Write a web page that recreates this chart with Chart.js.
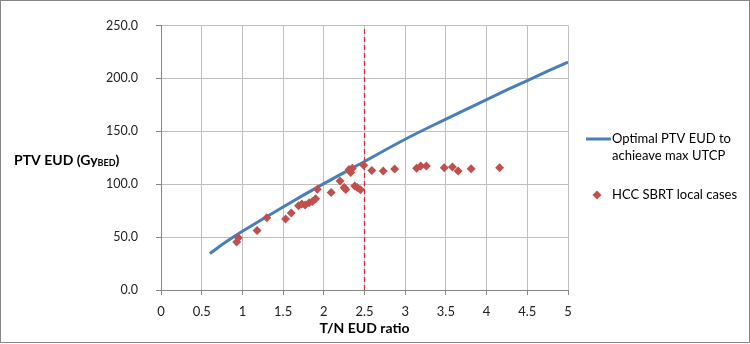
<!DOCTYPE html>
<html><head><meta charset="utf-8">
<script src="https://cdn.jsdelivr.net/npm/chart.js@4/dist/chart.umd.min.js"></script>
<style>html,body{margin:0;padding:0;background:#fff}#wrap{width:750px;height:344px;position:relative}</style>
</head><body><div id="wrap"><canvas id="c" width="750" height="344"></canvas></div>
<script>
// Optimal PTV EUD curve
const optX = [0.6, 0.8, 1.0, 1.5, 2.0, 2.5, 3.0, 3.5, 4.0, 4.5, 5.0];
const optY = [34.5, 45.5, 55.5, 78.5, 100.5, 121.5, 142.5, 161.5, 180, 198, 215.5];
// HCC SBRT local cases
const caseX = [0.93, 0.95, 1.18, 1.30, 1.53, 1.60, 1.69, 1.73, 1.77, 1.82, 1.86, 1.90, 1.92, 2.09, 2.20, 2.25, 2.27, 2.31, 2.33, 2.35, 2.38, 2.41, 2.45, 2.49, 2.59, 2.73, 2.87, 3.14, 3.19, 3.26, 3.48, 3.58, 3.65, 3.81, 4.16];
const caseY = [45.3, 49.4, 56.3, 68.2, 67.2, 72.8, 79.7, 81.3, 80.3, 82.5, 83.7, 86.2, 95.3, 92.2, 103, 96.8, 95, 114, 111, 115, 98.4, 96.8, 94.7, 118, 113, 112.5, 114.3, 115, 117.1, 117.1, 115.5, 116.2, 112.5, 114.6, 115.5];
// Threshold line
const thresholdX = 2.5;
const xTicks = [0, 0.5, 1, 1.5, 2, 2.5, 3, 3.5, 4, 4.5, 5];
const yTicks = [0, 50, 100, 150, 200, 250];

const FONT = "Lato, 'Open Sans', sans-serif";
const blue = '#4A7EBB', red = '#C0504D';

const overlay = {
  id: 'overlay',
  afterDraw(chart) {
    const ctx = chart.ctx;
    ctx.save();
    ctx.strokeStyle = '#868686'; ctx.lineWidth = 1;
    ctx.strokeRect(0.5, 0.5, 749, 342);
    ctx.fillStyle = '#000';
    ctx.textBaseline = 'middle';
    // Y title
    ctx.font = "bold 14px " + FONT;
    let x = 14, y = 160;
    ctx.fillText('PTV EUD (Gy', x, y); x += ctx.measureText('PTV EUD (Gy').width;
    ctx.font = "bold 9px " + FONT;
    ctx.fillText('BED', x, y + 3); x += ctx.measureText('BED').width;
    ctx.font = "bold 14px " + FONT;
    ctx.fillText(')', x, y);
    // X title
    ctx.textAlign = 'center';
    ctx.fillText('T/N EUD ratio', (chart.chartArea.left + chart.chartArea.right) / 2, 328);
    // Legend
    ctx.textAlign = 'left';
    ctx.font = "13px " + FONT;
    ctx.strokeStyle = blue; ctx.lineWidth = 3;
    ctx.beginPath(); ctx.moveTo(586, 139); ctx.lineTo(611, 139); ctx.stroke();
    ctx.fillStyle = '#000';
    ctx.fillText('Optimal PTV EUD to', 612, 139);
    ctx.fillText('achieave max UTCP', 612, 156);
    ctx.fillStyle = red;
    ctx.beginPath(); ctx.moveTo(597, 190.5); ctx.lineTo(601.5, 195); ctx.lineTo(597, 199.5); ctx.lineTo(592.5, 195); ctx.closePath(); ctx.fill();
    ctx.fillStyle = '#000';
    ctx.fillText('HCC SBRT local cases', 612, 195);
    ctx.restore();
  }
};

new Chart(document.getElementById('c'), {
  type: 'scatter',
  data: {
    datasets: [
      { label: 'Optimal PTV EUD to achieave max UTCP', data: optX.map((v, i) => ({x: v, y: optY[i]})), showLine: true, borderColor: blue, borderWidth: 3, pointRadius: 0, tension: 0.4, order: 2 },
      { label: 'HCC SBRT local cases', data: caseX.map((v, i) => ({x: v, y: caseY[i]})), pointStyle: 'rectRot', pointRadius: 4.5, backgroundColor: red, borderColor: red, borderWidth: 0, order: 1 },
      { label: 'threshold', data: [{x: thresholdX, y: yTicks[0]}, {x: thresholdX, y: yTicks[yTicks.length - 1]}], showLine: true, borderColor: '#D9262A', borderWidth: 1.2, borderDash: [5, 3], pointRadius: 0, order: 3 }
    ]
  },
  options: {
    responsive: false, animation: false, devicePixelRatio: 1,
    layout: { padding: { left: 0, right: 182, top: 24, bottom: 0 } },
    plugins: { legend: { display: false }, tooltip: { enabled: false } },
    scales: {
      x: {
        type: 'linear', min: 0, max: 5,
        afterBuildTicks: a => { a.ticks = xTicks.map(v => ({value: v})); },
        afterFit: a => { a.height = 54; },
        ticks: { callback: v => String(v), color: '#222', font: { family: FONT, size: 13 }, padding: 9, maxRotation: 0 },
        grid: { color: '#c0c0c0', tickLength: 5, tickColor: '#868686' },
        border: { color: '#868686' }
      },
      y: {
        type: 'linear', min: 0, max: 250,
        afterBuildTicks: a => { a.ticks = yTicks.map(v => ({value: v})); },
        afterFit: a => { a.width = 161; },
        ticks: { callback: v => v.toFixed(1), color: '#222', font: { family: FONT, size: 12.5 }, padding: 18 },
        grid: { color: '#c0c0c0', tickLength: 5, tickColor: '#868686' },
        border: { color: '#868686' }
      }
    }
  },
  plugins: [overlay]
});
</script></body></html>
